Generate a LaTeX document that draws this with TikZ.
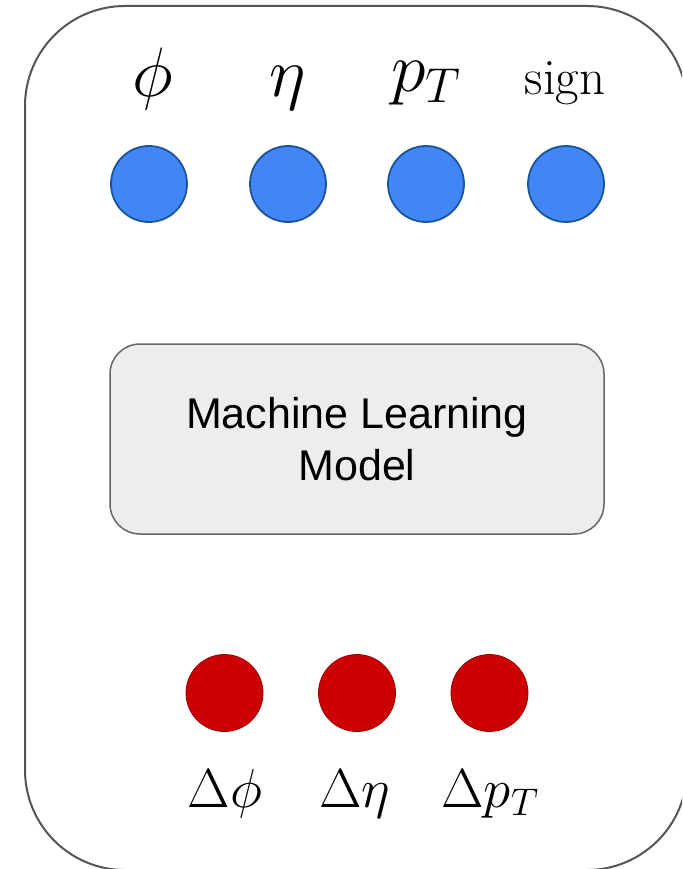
\documentclass[tikz,border=0pt]{standalone}
\usepackage{fix-cm}
\usepackage{fontspec}
\newfontfamily\arialfont{Liberation Sans}
\usetikzlibrary{shapes.geometric}

\definecolor{inblue}{HTML}{4285F4}
\definecolor{inborder}{HTML}{1A5496}
\definecolor{outred}{HTML}{CC0000}
\definecolor{outborder}{HTML}{990000}
\definecolor{boxfill}{HTML}{EDEDED}
\definecolor{boxline}{HTML}{666666}
\definecolor{frameline}{HTML}{555555}

\begin{document}
\begin{tikzpicture}[x=1pt,y=-1pt]
\tikzstyle{input} = [circle, draw=inborder, line width=1.8pt, fill=inblue,
minimum size=76pt, inner sep=0pt]
\tikzstyle{output} = [circle, draw=outborder, line width=0.8pt, fill=outred,
minimum size=77pt, inner sep=0pt]
\tikzstyle{block} = [rectangle, draw=boxline, line width=1.5pt, fill=boxfill,
rounded corners=30pt, minimum width=494pt, minimum height=190pt,
align=center, font=\fontsize{43}{52}\selectfont\arialfont]
\tikzstyle{varname} = [anchor=base, inner sep=0pt, font=\fontsize{70}{74}\selectfont]
\tikzstyle{deltaname} = [anchor=base, inner sep=0pt, font=\fontsize{55}{60}\selectfont]

\useasboundingbox (0,0) rectangle (682,869);
\clip (0,0) rectangle (682,869);
% frame round everything
\draw [frameline, line width=2pt, rounded corners=100pt] (25,6) rectangle (687,870);

% inputs
\node [input] (phi) at (149,184) {};
\node [input] (eta) at (288,184) {};
\node [input] (pt) at (426,184) {};
\node [input] (sgn) at (566,184) {};
\node [varname] (phiname) at (153,97) {$\phi$};
\node [varname] (etaname) at (288,97) {$\eta$};
\node [varname] (ptname) at (426,92) {$p_T$};
\node [varname, font=\fontsize{51}{56}\selectfont] (sgnname) at (565,95) {sign};

\node [block] (model) at (357,439) {Machine Learning\\Model};

% outputs
\node [output] (dphi) at (224.5,693) {};
\node [output] (deta) at (357,693) {};
\node [output] (dpt) at (489.5,693) {};
\node [deltaname] (dphiname) at (225,807) {$\Delta\phi$};
\node [deltaname] (detaname) at (355,807) {$\Delta\eta$};
\node [deltaname] (dptname) at (490,807) {$\Delta p_T$};
\end{tikzpicture}
\end{document}
